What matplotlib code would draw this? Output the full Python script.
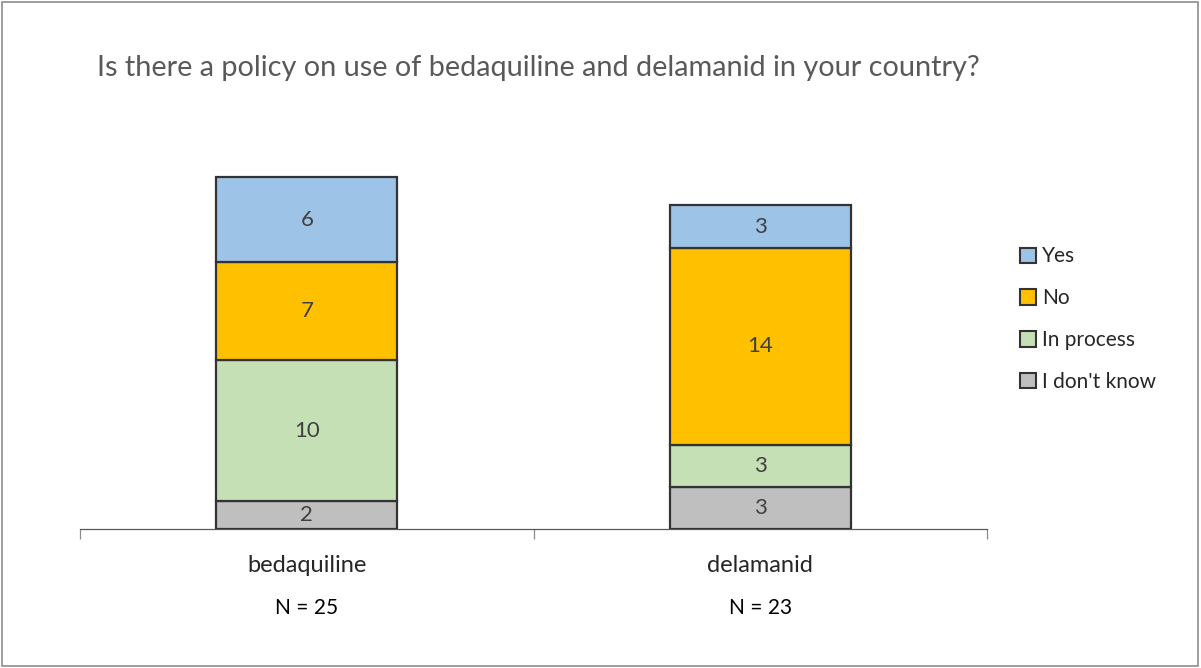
import matplotlib
matplotlib.use("Agg")
import matplotlib.pyplot as plt
from matplotlib.patches import Rectangle, Patch

plt.rcParams['font.family'] = ['Lato', 'DejaVu Sans']

drugs = ['bedaquiline', 'delamanid']
n_labels = ['N = 25', 'N = 23']
answers = ['I don\'t know', 'In process', 'No', 'Yes']
counts = {
    'I don\'t know': [2, 3],
    'In process': [10, 3],
    'No': [7, 14],
    'Yes': [6, 3],
}
colors = {
    'I don\'t know': '#bfbfbf',
    'In process': '#c5e0b4',
    'No': '#ffc000',
    'Yes': '#9dc3e6',
}

fig = plt.figure(figsize=(12.01, 6.68), dpi=100)
ax = fig.add_axes([80 / 1201, 139 / 668, 907 / 1201, 422 / 668])

x = list(range(len(drugs)))
bottom = [0] * len(drugs)
for ans in answers:
    vals = counts[ans]
    bars = ax.bar(x, vals, width=0.4, bottom=bottom, color=colors[ans],
                  edgecolor='#333333', linewidth=1.6, zorder=3)
    for b, v in zip(bars, vals):
        ax.text(b.get_x() + b.get_width() / 2, b.get_y() + v / 2, str(v),
                ha='center', va='center', fontsize=16, color='#404040', zorder=4)
    bottom = [b + v for b, v in zip(bottom, vals)]

ax.set_xlim(-0.5, 1.5)
ax.set_ylim(0, 30)
for s in ['top', 'right', 'left']:
    ax.spines[s].set_visible(False)
ax.spines['bottom'].set_color('#595959')
ax.spines['bottom'].set_linewidth(0.9)
ax.set_yticks([])
ax.set_xticks(x)
ax.set_xticklabels([])
ax.tick_params(axis='x', which='major', length=0)
ax.set_xticks([-0.5, 0.5, 1.5], minor=True)
ax.tick_params(axis='x', which='minor', length=7, color='#8c8c8c', width=0.9)

for xi, name, n in zip(x, drugs, n_labels):
    ax.annotate(name, (xi, 0), xytext=(0, -36), textcoords='offset pixels',
                ha='center', va='center', fontsize=17, color='#262626',
                annotation_clip=False)
    ax.annotate(n, (xi, 0), xytext=(0, -79), textcoords='offset pixels',
                ha='center', va='center', fontsize=15, color='#000000',
                annotation_clip=False)

fig.text(97 / 1201, 1 - 68 / 668,
         'Is there a policy on use of bedaquiline and delamanid in your country?',
         ha='left', va='center', fontsize=20.8, color='#595959')

handles = [Patch(facecolor=colors[a], edgecolor='#333333', linewidth=1.5)
           for a in reversed(answers)]
leg = fig.legend(handles, list(reversed(answers)), loc='upper left',
                 bbox_to_anchor=(1010 / 1201, 1 - 236 / 668), frameon=False,
                 fontsize=15, handlelength=0.75, handleheight=0.75,
                 handletextpad=0.3, labelspacing=1.05, borderpad=0)
for t in leg.get_texts():
    t.set_color('#262626')

fig.patches.append(Rectangle((2 / 1201, 2 / 668), 1196 / 1201, 664 / 668,
                             transform=fig.transFigure, fill=False,
                             edgecolor='#8c8c8c', linewidth=1.2))

fig.savefig('out.png', dpi=100)
